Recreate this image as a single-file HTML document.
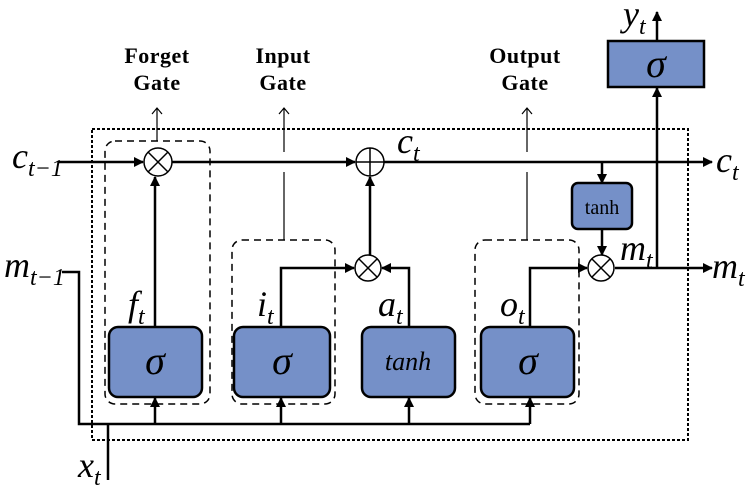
<!DOCTYPE html>
<html><head><meta charset="utf-8"><style>
body{margin:0;background:#fff}
svg{display:block}
.l{font-family:"Liberation Serif",serif;font-style:italic}
.g{font-family:"Liberation Serif",serif;font-weight:bold;font-size:22px;letter-spacing:0.5px}
</style></head><body>
<svg width="750" height="503" viewBox="0 0 750 503" xmlns="http://www.w3.org/2000/svg">
<defs>
<marker id="a" markerWidth="10" markerHeight="10" refX="9" refY="5" orient="auto" markerUnits="userSpaceOnUse"><path d="M0,0 L10,5 L0,10 z" fill="#000"/></marker>
<marker id="t" markerWidth="10" markerHeight="12" refX="9" refY="6" orient="auto" markerUnits="userSpaceOnUse"><path d="M3,1 L9,6 L3,11" fill="none" stroke="#000" stroke-width="1.2"/></marker>
</defs>
<rect x="92" y="129" width="596" height="311" fill="none" stroke="#000" stroke-width="2" stroke-dasharray="3,2"/>
<g fill="none" stroke="#000" stroke-width="1.5" stroke-dasharray="7,5">
<rect x="105" y="141" width="105" height="263" rx="10"/>
<rect x="232" y="240" width="103" height="164" rx="10"/>
<rect x="475" y="240" width="104" height="164" rx="10"/>
</g>
<g stroke="#000" stroke-width="1.2" fill="none">
<line x1="157" y1="141" x2="157" y2="108" marker-end="url(#t)"/>
<line x1="284" y1="240" x2="284" y2="172"/>
<line x1="284" y1="152" x2="284" y2="108" marker-end="url(#t)"/>
<line x1="527" y1="240" x2="527" y2="172"/>
<line x1="527" y1="152" x2="527" y2="108" marker-end="url(#t)"/>
</g>
<text class="g" x="157" y="63" text-anchor="middle">Forget</text>
<text class="g" x="157" y="90" text-anchor="middle">Gate</text>
<text class="g" x="283" y="63" text-anchor="middle">Input</text>
<text class="g" x="283" y="90" text-anchor="middle">Gate</text>
<text class="g" x="525" y="63" text-anchor="middle">Output</text>
<text class="g" x="525" y="90" text-anchor="middle">Gate</text>
<g stroke="#000" stroke-width="2.5" fill="none">
<line x1="58" y1="162" x2="143" y2="162" marker-end="url(#a)"/>
<line x1="172" y1="162" x2="355" y2="162" marker-end="url(#a)"/>
<line x1="384" y1="162" x2="712" y2="162" marker-end="url(#a)"/>
<polyline points="62,272 79,272 79,424 530,424"/>
<line x1="108" y1="480" x2="108" y2="424"/>
<line x1="155" y1="424" x2="155" y2="398" marker-end="url(#a)"/>
<line x1="281" y1="424" x2="281" y2="398" marker-end="url(#a)"/>
<line x1="409" y1="424" x2="409" y2="398" marker-end="url(#a)"/>
<line x1="530" y1="424" x2="530" y2="398" marker-end="url(#a)"/>
<line x1="155" y1="327" x2="155" y2="177" marker-end="url(#a)"/>
<polyline points="281,327 281,268 354,268" marker-end="url(#a)"/>
<polyline points="409,327 409,268 382,268" marker-end="url(#a)"/>
<line x1="370" y1="255" x2="370" y2="177" marker-end="url(#a)"/>
<polyline points="530,327 530,268 587,268" marker-end="url(#a)"/>
<line x1="602" y1="162" x2="602" y2="183" marker-end="url(#a)"/>
<line x1="602" y1="229" x2="602" y2="255" marker-end="url(#a)"/>
<line x1="615" y1="268" x2="712" y2="268" marker-end="url(#a)"/>
<line x1="657" y1="268" x2="657" y2="88" marker-end="url(#a)"/>
<line x1="657" y1="41" x2="657" y2="12" marker-end="url(#a)"/>
</g>
<g stroke="#000" stroke-width="1.5" fill="#fff">
<circle cx="158" cy="162" r="14"/><path d="M148,152 L168,172 M168,152 L148,172"/>
<circle cx="370" cy="162" r="14"/><path d="M356,162 H384 M370,148 V176"/>
<circle cx="368" cy="268" r="13"/><path d="M359,259 L377,277 M377,259 L359,277"/>
<circle cx="601" cy="268" r="13"/><path d="M592,259 L610,277 M610,259 L592,277"/>
</g>
<g fill="#7590c8" stroke="#000" stroke-width="2.5">
<rect x="109" y="327" width="93" height="70" rx="9"/>
<rect x="234" y="327" width="96" height="70" rx="9"/>
<rect x="362" y="327" width="93" height="70" rx="9"/>
<rect x="481" y="327" width="93" height="70" rx="9"/>
<rect x="572" y="183" width="60" height="46" rx="6"/>
<rect x="608" y="41" width="96" height="46"/>
</g>
<g font-family="Liberation Serif,serif" font-style="italic" font-size="40" text-anchor="middle">
<text x="155" y="374">σ</text><text x="282" y="374">σ</text><text x="528" y="374">σ</text><text x="656" y="77">σ</text>
<text x="408" y="370" font-size="26">tanh</text>
</g>
<text x="602" y="214" font-family="Liberation Serif,serif" font-size="20" text-anchor="middle">tanh</text>
<g class="l" font-size="36">
<text x="12" y="168">c<tspan font-size="24" dy="8">t−1</tspan></text>
<text x="397" y="153">c<tspan font-size="24" dy="8">t</tspan></text>
<text x="716" y="172">c<tspan font-size="24" dy="8">t</tspan></text>
<text x="4" y="277">m<tspan font-size="24" dy="8">t−1</tspan></text>
<text x="712" y="278">m<tspan font-size="24" dy="8">t</tspan></text>
<text x="620" y="260">m<tspan font-size="24" dy="8">t</tspan></text>
<text x="128" y="316">f<tspan font-size="24" dy="8">t</tspan></text>
<text x="257" y="316">i<tspan font-size="24" dy="8">t</tspan></text>
<text x="378" y="316">a<tspan font-size="24" dy="8">t</tspan></text>
<text x="500" y="316">o<tspan font-size="24" dy="8">t</tspan></text>
<text x="78" y="477">x<tspan font-size="24" dy="8">t</tspan></text>
<text x="623" y="26">y<tspan font-size="24" dy="8">t</tspan></text>
</g>
</svg>
</body></html>
